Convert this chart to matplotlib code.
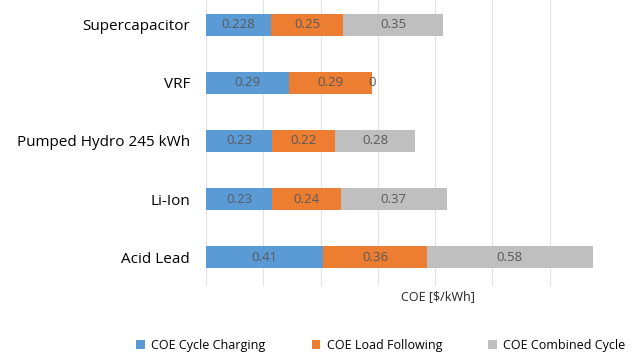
import matplotlib
matplotlib.use('Agg')
import matplotlib.pyplot as plt
import numpy as np

# 数据
categories = ['Acid Lead', 'Li-Ion', 'Pumped Hydro 245 kWh', 'VRF', 'Supercapacitor']
cycle_charging = [0.41, 0.23, 0.23, 0.29, 0.228]
load_following = [0.36, 0.24, 0.22, 0.29, 0.25]
combined_cycle = [0.58, 0.37, 0.28, 0, 0.35]
series_names = ['COE Cycle Charging', 'COE Load Following', 'COE Combined Cycle']
colors = ['#5b9bd5', '#ed7d31', '#bfbfbf']

plt.rcParams['font.family'] = ['Open Sans', 'DejaVu Sans']

fig = plt.figure(figsize=(6.36, 3.63), dpi=100)
ax = fig.add_axes([0.324, 0.212, 0.6305, 0.788])

y = np.arange(len(categories))
left = np.zeros(len(categories))
for vals, name, c in zip([cycle_charging, load_following, combined_cycle], series_names, colors):
    bars = ax.barh(y, vals, left=left, height=0.38, color=c, label=name, zorder=3)
    ax.bar_label(bars, labels=[str(v) for v in vals], label_type='center', fontsize=9.5, color='#595959')
    left = left + np.array(vals)

ax.set_xlim(0, 1.4)
ax.set_ylim(-0.5, 4.43)
ax.set_xticks(np.arange(0, 1.41, 0.2))
ax.set_xticklabels([])
ax.tick_params(axis='x', length=0)
ax.tick_params(axis='y', length=0, labelsize=11, pad=11.5)
ax.set_yticks(y)
ax.set_yticklabels(categories)
ax.grid(axis='x', color='#e3e3e3', linewidth=0.8, zorder=0)
for s in ax.spines.values():
    s.set_visible(False)

# 坐标轴标签
fig.text(0.689, 0.182, 'COE [$/kWh]', ha='center', va='center', fontsize=9, color='#222222')

fig.legend(loc='center', bbox_to_anchor=(0.599, 0.048), ncol=3, frameon=False, fontsize=9,
           handlelength=0.7, handleheight=0.7, columnspacing=3.7, handletextpad=0.5)

plt.savefig('out.png', dpi=100)
